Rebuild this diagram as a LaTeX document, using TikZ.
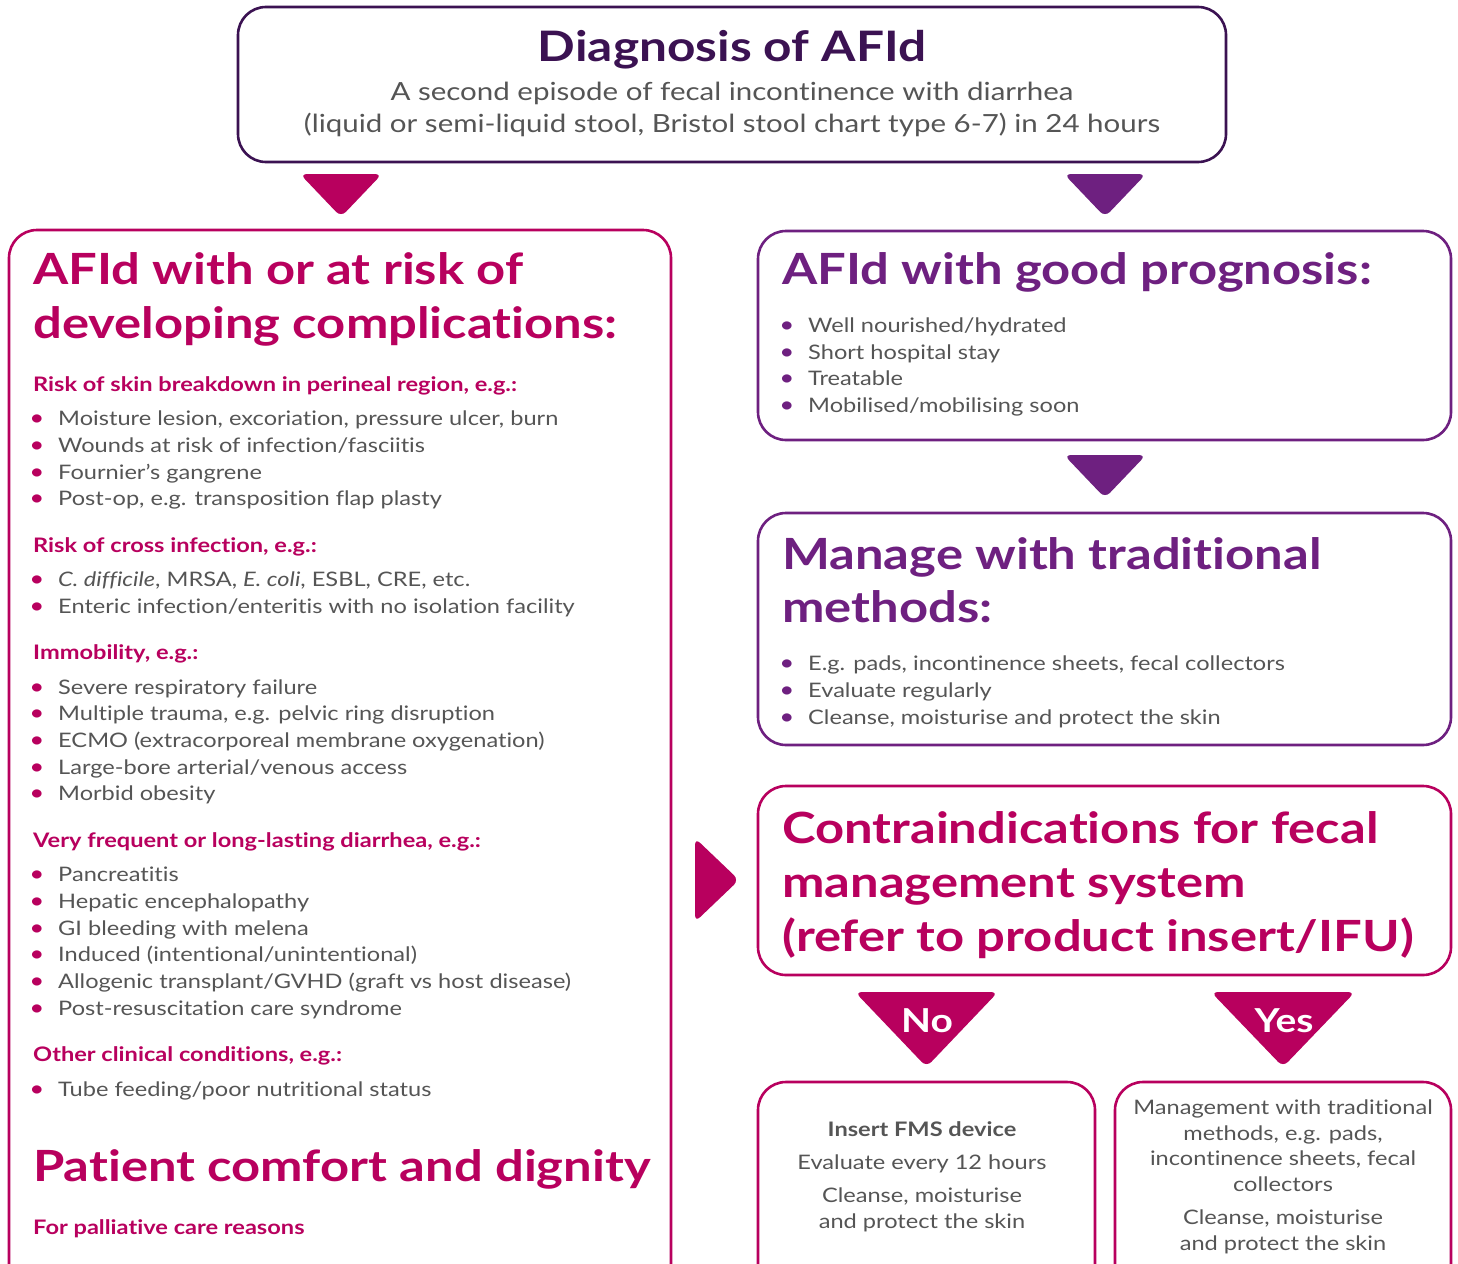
\documentclass[tikz,border=0pt]{standalone}
\usepackage{fontspec}
\setmainfont{Lato}[FakeStretch=1.18, Ligatures=NoCommon]
\definecolor{mag}{HTML}{B8005E}
\definecolor{purp}{HTML}{6E2080}
\definecolor{dpurp}{HTML}{3B1252}
\definecolor{txt}{HTML}{555555}
\newcounter{bn}
\newcommand{\fs}[1]{\fontsize{#1}{#1}\selectfont}
\tikzset{
  boxsty/.style={draw, rounded corners=28pt, line width=2.6pt, inner sep=0pt},
  tristy/.style={rounded corners=7pt},
  titlesty/.style={anchor=base west, inner sep=0pt, font=\fs{43}\bfseries},
  substy/.style={anchor=base west, inner sep=0pt, font=\fs{20}\bfseries, text=mag},
  itemsty/.style={anchor=base west, inner sep=0pt, font=\fs{20}, text=txt},
  bulsty/.style={anchor=base, inner sep=0pt, font=\fs{22}},
  ctrsty/.style={anchor=base, inner sep=0pt, font=\fs{20}, text=txt},
}
% #1 bullet x, #2 baseline y, #3 bullet colour, #4 text
\newcommand{\bitem}[4]{%
  \stepcounter{bn}%
  \node[bulsty, text=#3] (bu\thebn) at (#1,#2) {•};
  \node[itemsty] (it\thebn) at (#1+21,#2) {#4};
}
\begin{document}
\begin{tikzpicture}[x=1pt,y=-1pt]
\clip (0,0) rectangle (1458,1263);
\fill[white] (0,0) rectangle (1458,1263);

% ---------- boxes ----------
\node[boxsty, draw=dpurp, minimum width=988pt, minimum height=155pt] (top) at (732,84.5) {};
\node[boxsty, draw=mag, minimum width=662pt, minimum height=1070pt] (left) at (340,765) {};
\node[boxsty, draw=purp, minimum width=693pt, minimum height=209pt] (good) at (1104.5,335.5) {};
\node[boxsty, draw=purp, minimum width=693pt, minimum height=232pt] (manage) at (1104.5,629) {};
\node[boxsty, draw=mag, minimum width=693pt, minimum height=189pt] (contra) at (1104.5,880.5) {};
\node[boxsty, draw=mag, minimum width=337pt, minimum height=223pt] (nobox) at (926.5,1193.5) {};
\node[boxsty, draw=mag, minimum width=336pt, minimum height=223pt] (yesbox) at (1283,1193.5) {};

% ---------- triangles ----------
\fill[mag, tristy] (300,174) -- (382,174) -- (341,217) -- cycle;
\fill[purp, tristy] (1064,174) -- (1146,174) -- (1105,217) -- cycle;
\fill[purp, tristy] (1064,455) -- (1146,455) -- (1105,498) -- cycle;
\fill[mag, tristy] (695,838) -- (695,922) -- (739,880) -- cycle;
\fill[mag, tristy] (855,992) -- (998,992) -- (926.5,1067) -- cycle;
\fill[mag, tristy] (1211,992) -- (1355,992) -- (1283,1067) -- cycle;
\node[anchor=base, inner sep=0pt, font=\fs{33}\bfseries, text=white] (no) at (927,1032) {No};
\node[anchor=base, inner sep=0pt, font=\fs{33}\bfseries, text=white] (yes) at (1284,1032) {Yes};

% ---------- top box text ----------
\node[anchor=base, inner sep=0pt, font=\fs{42}\bfseries, text=dpurp] (dtitle) at (732,61) {Diagnosis of AFId};
\node[anchor=base, inner sep=0pt, font=\fs{25}, text=txt] (d1) at (732,100) {A second episode of fecal incontinence with diarrhea};
\node[anchor=base, inner sep=0pt, font=\fs{25}, text=txt] (d2) at (732,132) {(liquid or semi-liquid stool, Bristol stool chart type 6-7) in 24 hours};

% ---------- left box text ----------
\node[titlesty, text=mag] (lt1) at (33,284) {AFId with or at risk of};
\node[titlesty, text=mag] (lt2) at (33,338) {developing complications:};
\node[substy] (s1) at (33,391) {Risk of skin breakdown in perineal region, e.g.:};
\bitem{37}{425}{mag}{Moisture lesion, excoriation, pressure ulcer, burn}
\bitem{37}{452}{mag}{Wounds at risk of infection/fasciitis}
\bitem{37}{479}{mag}{Fournier’s gangrene}
\bitem{37}{505}{mag}{Post-op, e.g. transposition flap plasty}
\node[substy] (s2) at (33,552) {Risk of cross infection, e.g.:};
\bitem{37}{586}{mag}{\textit{C. difficile}, MRSA, \textit{E. coli}, ESBL, CRE, etc.}
\bitem{37}{613}{mag}{Enteric infection/enteritis with no isolation facility}
\node[substy] (s3) at (33,659) {Immobility, e.g.:};
\bitem{37}{694}{mag}{Severe respiratory failure}
\bitem{37}{720}{mag}{Multiple trauma, e.g. pelvic ring disruption}
\bitem{37}{747}{mag}{ECMO (extracorporeal membrane oxygenation)}
\bitem{37}{774}{mag}{Large-bore arterial/venous access}
\bitem{37}{800}{mag}{Morbid obesity}
\node[substy] (s4) at (33,847) {Very frequent or long-lasting diarrhea, e.g.:};
\bitem{37}{881}{mag}{Pancreatitis}
\bitem{37}{908}{mag}{Hepatic encephalopathy}
\bitem{37}{935}{mag}{GI bleeding with melena}
\bitem{37}{961}{mag}{Induced (intentional/unintentional)}
\bitem{37}{988}{mag}{Allogenic transplant/GVHD (graft vs host disease)}
\bitem{37}{1015}{mag}{Post-resuscitation care syndrome}
\node[substy] (s5) at (33,1061) {Other clinical conditions, e.g.:};
\bitem{37}{1096}{mag}{Tube feeding/poor nutritional status}
\node[titlesty, text=mag] (pc) at (33,1181) {Patient comfort and dignity};
\node[substy] (pal) at (33,1234) {For palliative care reasons};

% ---------- right boxes ----------
\node[titlesty, text=purp] (gt) at (782,284) {AFId with good prognosis:};
\bitem{787}{332}{purp}{Well nourished/hydrated}
\bitem{787}{359}{purp}{Short hospital stay}
\bitem{787}{385}{purp}{Treatable}
\bitem{787}{412}{purp}{Mobilised/mobilising soon}

\node[titlesty, text=purp] (mt1) at (782,569) {Manage with traditional};
\node[titlesty, text=purp] (mt2) at (782,622) {methods:};
\bitem{787}{670}{purp}{E.g. pads, incontinence sheets, fecal collectors}
\bitem{787}{697}{purp}{Evaluate regularly}
\bitem{787}{724}{purp}{Cleanse, moisturise and protect the skin}

\node[titlesty, text=mag] (ct1) at (782,843) {Contraindications for fecal};
\node[titlesty, text=mag] (ct2) at (782,897) {management system};
\node[titlesty, text=mag] (ct3) at (782,951) {(refer to product insert/IFU)};

% ---------- bottom boxes ----------
\node[ctrsty, font=\fs{20}\bfseries] (n1) at (922,1136) {Insert FMS device};
\node[ctrsty] (n2) at (922,1169) {Evaluate every 12 hours};
\node[ctrsty] (n3) at (922,1202) {Cleanse, moisturise};
\node[ctrsty] (n4) at (922,1228) {and protect the skin};

\node[ctrsty] (y1) at (1283,1114) {Management with traditional};
\node[ctrsty] (y2) at (1283,1140) {methods, e.g. pads,};
\node[ctrsty] (y3) at (1283,1165) {incontinence sheets, fecal};
\node[ctrsty] (y4) at (1283,1191) {collectors};
\node[ctrsty] (y5) at (1283,1224) {Cleanse, moisturise};
\node[ctrsty] (y6) at (1283,1250) {and protect the skin};
\end{tikzpicture}
\end{document}
